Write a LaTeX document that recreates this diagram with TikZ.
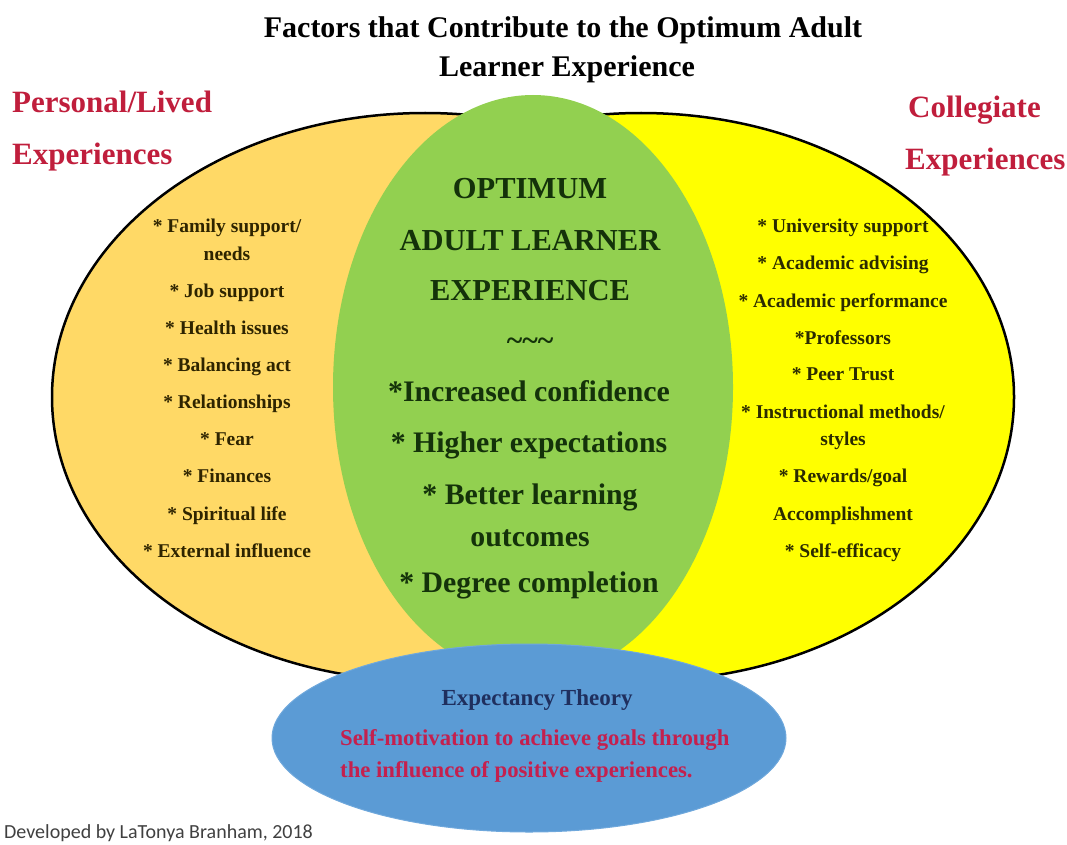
\documentclass[tikz,border=0pt]{standalone}
\usepackage{fontspec}
\setmainfont{Liberation Serif}
\setsansfont{Carlito}
\usetikzlibrary{shapes.geometric}

\definecolor{livedfill}{HTML}{FFD966}
\definecolor{collegefill}{HTML}{FFFF00}
\definecolor{optimumfill}{HTML}{92D050}
\definecolor{theoryfill}{HTML}{5B9BD5}
\definecolor{theoryline}{HTML}{6FA8DC}
\definecolor{headred}{HTML}{C01E3C}
\definecolor{motivred}{HTML}{C4204E}
\definecolor{navy}{HTML}{1F2F5E}
\definecolor{livedtext}{HTML}{2E2400}
\definecolor{collegetext}{HTML}{2B2B00}
\definecolor{optimumtext}{HTML}{14320A}

\tikzset{
	venn/.style={ellipse, inner sep=0pt, outer sep=0pt},
	outer set/.style={venn, draw=black, line width=2.5pt},
	heading/.style={anchor=mid, inner sep=0pt, text=black, yshift=-7pt,
		font=\bfseries\fontsize{30}{32}\selectfont},
	side title/.style={anchor=mid west, inner sep=0pt, text=headred, yshift=-7pt,
		font=\bfseries\fontsize{31}{32}\selectfont},
	factor/.style={anchor=mid, inner sep=0pt, yshift=-5pt,
		font=\bfseries\fontsize{19.5}{21}\selectfont},
	outcome/.style={anchor=mid, inner sep=0pt, text=optimumtext, yshift=-7pt,
		font=\bfseries\fontsize{29.8}{31}\selectfont},
	outcome head/.style={outcome, font=\bfseries\fontsize{30.5}{32}\selectfont}
}

\begin{document}
\begin{tikzpicture}[x=1pt, y=-1pt]
	\useasboundingbox (0,0) rectangle (1067,845);

	% the two outer sets, each kept to its own half
	\begin{scope}
		\clip (0,0) rectangle (533,845);
		\node[outer set, fill=livedfill, minimum width=746, minimum height=568] (lived) at (425,397) {};
	\end{scope}
	\begin{scope}
		\clip (533,0) rectangle (1067,845);
		\node[outer set, fill=collegefill, minimum width=746, minimum height=568] (college) at (641,397) {};
	\end{scope}

	\node[venn, fill=optimumfill, minimum width=400, minimum height=584] (optimum) at (533,387) {};
	\node[venn, fill=theoryfill, draw=theoryline, line width=1pt, minimum width=514, minimum height=188] (theory) at (529,738) {};

	% headings
	\node[heading] (title1) at (563,28) {Factors that Contribute to the Optimum Adult};
	\node[heading] (title2) at (567,67) {Learner Experience};
	\node[side title] (lived1) at (12,103) {Personal/Lived};
	\node[side title] (lived2) at (12,155) {Experiences};
	\node[side title] (college1) at (908,108) {Collegiate};
	\node[side title] (college2) at (905,160) {Experiences};

	% personal factors
	\foreach \y/\t [count=\i] in {225/{* Family support/}, 253/needs, 290/* Job support,
			327/* Health issues, 364/* Balancing act, 401/* Relationships, 438/* Fear,
			475/* Finances, 513/* Spiritual life, 550/* External influence}
		\node[factor, text=livedtext] (lf\i) at (227,\y) {\t};

	% collegiate factors
	\foreach \y/\t [count=\i] in {225/* University support, 262/* Academic advising,
			300/* Academic performance, 337/*Professors, 373/* Peer Trust,
			411/{* Instructional methods/}, 438/styles, 475/{* Rewards/goal},
			513/Accomplishment, 550/* Self-efficacy}
		\node[factor, text=collegetext] (cf\i) at (843,\y) {\t};

	% centre
	\node[outcome head] (opt1) at (530,189) {OPTIMUM};
	\node[outcome head] (opt2) at (530,241) {ADULT LEARNER};
	\node[outcome head] (opt3) at (530,291) {EXPERIENCE};
	\node[outcome] (opt4) at (530,341) {\textasciitilde\textasciitilde\textasciitilde};
	\node[outcome] (opt5) at (529,392) {*Increased confidence};
	\node[outcome] (opt6) at (529,443) {* Higher expectations};
	\node[outcome] (opt7) at (530,495) {* Better learning};
	\node[outcome] (opt8) at (530,537) {outcomes};
	\node[outcome] (opt9) at (529,583) {* Degree completion};

	% expectancy theory
	\node[anchor=mid, inner sep=0pt, text=navy, yshift=-6pt, font=\bfseries\fontsize{23}{24}\selectfont]
		(theoryname) at (537,697) {Expectancy Theory};
	\node[anchor=north west, inner sep=0pt, text=motivred, align=left,
		font=\bfseries\fontsize{22.7}{32}\selectfont]
		(motivation) at (340,729) {Self-motivation to achieve goals through\\the influence of positive experiences.};

	\node[anchor=mid west, inner sep=0pt, text=black!75, yshift=-4pt, font=\sffamily\fontsize{20}{21}\selectfont]
		(credit) at (4,832) {Developed by LaTonya Branham, 2018};
\end{tikzpicture}
\end{document}
